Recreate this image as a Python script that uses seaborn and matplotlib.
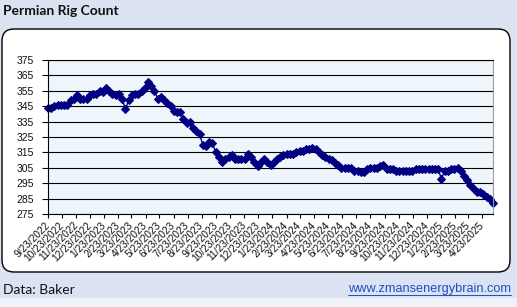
import matplotlib
matplotlib.use("Agg")
import matplotlib.pyplot as plt
import seaborn as sns
import pandas as pd
from matplotlib.patches import FancyBboxPatch, Rectangle
from matplotlib.lines import Line2D

# ---------------- data ----------------
start_date = "2022-09-23"          # weekly (Friday) Baker Hughes counts
rig_count = [
    344, 344, 345, 346, 346, 346, 346, 349, 350, 352,
    350, 350, 350, 352, 353, 353, 355, 354, 357, 355,
    353, 352, 353, 350, 343, 349, 352, 353, 353, 355,
    357, 361, 358, 355, 350, 351, 349, 347, 345, 342,
    341, 341, 337, 334, 335, 331, 329, 327, 320, 319,
    322, 321, 315, 312, 309, 311, 312, 313, 311, 311,
    311, 311, 314, 312, 309, 306, 309, 311, 309, 307,
    309, 311, 312, 313, 314, 314, 314, 315, 316, 316,
    317, 317, 318, 317, 315, 313, 312, 311, 310, 308,
    307, 305, 305, 305, 305, 303, 303, 302, 302, 304,
    305, 305, 305, 306, 307, 304, 304, 304, 303, 303,
    303, 303, 303, 303, 304, 304, 304, 304, 304, 304,
    304, 304, 298, 303, 303, 304, 304, 305, 303, 300,
    297, 294, 291, 289, 289, 288, 286, 285, 282,
]
tick_labels = [
    "9/23/2022", "10/23/2022", "11/23/2022", "12/23/2022",
    "1/23/2023", "2/23/2023", "3/23/2023", "4/23/2023", "5/23/2023",
    "6/23/2023", "7/23/2023", "8/23/2023", "9/23/2023", "10/23/2023",
    "11/23/2023", "12/23/2023", "1/23/2024", "2/23/2024", "3/23/2024",
    "4/23/2024", "5/23/2024", "6/23/2024", "7/23/2024", "8/23/2024",
    "9/23/2024", "10/23/2024", "11/23/2024", "12/23/2024", "1/23/2025",
    "2/23/2025", "3/23/2025", "4/23/2025",
]
y_ticks = [275, 285, 295, 305, 315, 325, 335, 345, 355, 365, 375]

title = "Permian Rig Count"
source = "Data: Baker"
url = "www.zmansenergybrain.com"

dates = pd.date_range(start_date, periods=len(rig_count), freq="7D")
df = pd.DataFrame({"date": dates, "rigs": rig_count})

# ---------------- style ----------------
sns.set_theme(style="white")
plt.rcParams["font.family"] = ["Liberation Sans", "DejaVu Sans"]

W, H = 517, 307
fig = plt.figure(figsize=(W / 100, H / 100), dpi=100)
fig.patch.set_facecolor("#dbe2f1")

# lighter strip at the very bottom
fig.patches.append(Rectangle((0, 0), 1, 9 / H, transform=fig.transFigure,
                             facecolor="#eef2f9", edgecolor="none", zorder=0))

# white rounded panel
panel = FancyBboxPatch((0.02, 0.35), 5.08, 2.43,
                       boxstyle="round,pad=0,rounding_size=0.12",
                       transform=fig.dpi_scale_trans,
                       facecolor="white", edgecolor="#000000", linewidth=1.0,
                       zorder=1)
fig.patches.append(panel)

ax = fig.add_axes([48 / W, 1 - 214 / H, (493 - 48) / W, (214 - 60) / H])
ax.set_zorder(2)
ax.set_facecolor("#eef5fb")

sns.lineplot(data=df, x="date", y="rigs", ax=ax, color="#000080",
             linewidth=1.0, marker="D", markersize=3.6,
             markeredgecolor="#000080", markerfacecolor="#000080",
             clip_on=False)

ax.set_xlim(dates[0], dates[-1])
ax.set_ylim(y_ticks[0], y_ticks[-1])
ax.set_yticks(y_ticks)
ax.set_yticklabels([str(v) for v in y_ticks], fontsize=7.5, color="#111111")

tick_dates = pd.to_datetime(tick_labels, format="%m/%d/%Y")
ax.set_xticks(tick_dates)
ax.set_xticklabels(tick_labels, rotation=45, ha="right", va="center",
                   rotation_mode="anchor", fontsize=7.3, color="#111111")

ax.set_xlabel("")
ax.set_ylabel("")
ax.yaxis.grid(True, color="black", linewidth=0.8)
ax.xaxis.grid(False)
ax.set_axisbelow(True)

ax.tick_params(axis="y", direction="out", length=4, width=0.8,
               color="black", pad=6, left=True)
ax.tick_params(axis="x", direction="out", length=3, width=0.8,
               color="black", pad=4, bottom=True)

for s in ["left", "bottom", "top"]:
    ax.spines[s].set_color("black")
    ax.spines[s].set_linewidth(0.8)
ax.spines["right"].set_color("#9a9a9a")
ax.spines["right"].set_linewidth(0.8)

# ---------------- texts ----------------
fig.text(3 / W, 1 - 11 / H, title, fontsize=10, fontweight="bold",
         family=["Lato", "DejaVu Sans"], color="#111111",
         ha="left", va="center")
fig.text(3 / W, 1 - 290 / H, source, fontsize=10,
         family=["Lato", "DejaVu Sans"], color="#111111",
         ha="left", va="center")
url_txt = fig.text(511 / W, 1 - 289 / H, url, fontsize=9.2,
                   color="#1f4fc4", ha="right", va="center")

fig.canvas.draw()
bb = url_txt.get_window_extent(renderer=fig.canvas.get_renderer())
uy = (bb.y0 + 0.5) / H
fig.add_artist(Line2D([bb.x0 / W, bb.x1 / W], [uy, uy],
                      transform=fig.transFigure, color="#1f4fc4",
                      linewidth=0.7))

fig.savefig("out.png", dpi=100, facecolor=fig.get_facecolor())
